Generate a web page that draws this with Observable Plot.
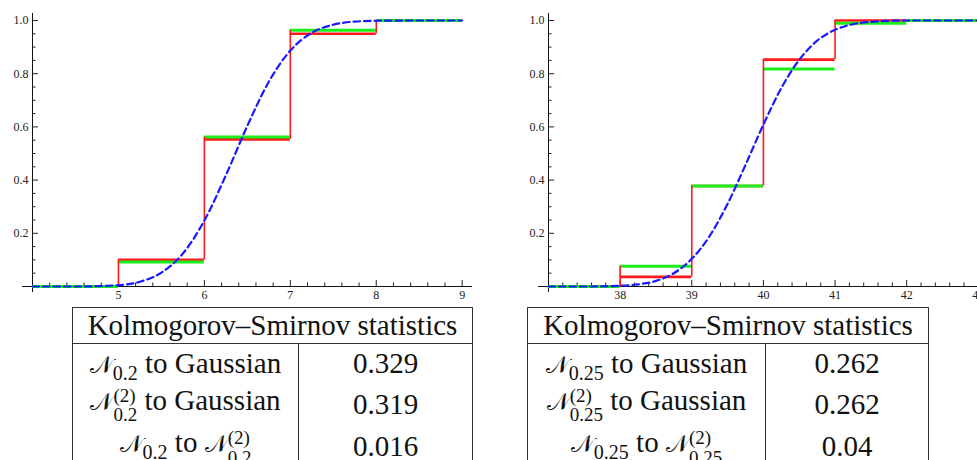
<!DOCTYPE html>
<html><head><meta charset="utf-8">
<script src="https://cdn.jsdelivr.net/npm/d3@7"></script>
<script src="https://cdn.jsdelivr.net/npm/@observablehq/plot@0.6"></script>
<style>
html,body{margin:0;padding:0;background:#fff;overflow:hidden;}
#wrap{display:flex;width:1000px;}
.col{width:500px;flex:none;}
.col svg{display:block;}
table.ks{border-collapse:collapse;font-family:"Liberation Serif","Times New Roman",serif;font-size:29px;color:#111;margin-top:1px;}
table.ks th{border:1px solid #333;font-weight:normal;height:35px;padding:0;text-align:center;}
table.ks td{border-left:1px solid #333;border-right:1px solid #333;padding:0;text-align:center;vertical-align:middle;}
.N{font-family:"DejaVu Sans",serif;font-size:24px;}
.sb{font-size:20px;position:relative;top:7px;}
.ss{display:inline-block;vertical-align:-0.6em;line-height:1.02;font-size:19px;text-align:left;}
.ss span{display:block;}
</style>
</head><body>
<div id="wrap">
  <div class="col" id="colL">
    <div id="plotL"></div>
    <table class="ks" style="margin-left:72px;width:401px">
      <tr><th colspan="2">Kolmogorov–Smirnov statistics</th></tr>
      <tr style="height:40px"><td style="width:225px"><span class="N">&#x1D4A9;</span><span class="sb">0.2</span> to Gaussian</td><td>0.329</td></tr>
      <tr style="height:41px"><td><span class="N">&#x1D4A9;</span><span class="ss"><span>(2)</span><span>0.2</span></span> to Gaussian</td><td>0.319</td></tr>
      <tr style="height:44px"><td><span class="N">&#x1D4A9;</span><span class="sb">0.2</span> to <span class="N">&#x1D4A9;</span><span class="ss"><span>(2)</span><span>0.2</span></span></td><td>0.016</td></tr>
    </table>
  </div>
  <div class="col" id="colR">
    <div id="plotR"></div>
    <table class="ks" style="margin-left:27px;width:402px">
      <tr><th colspan="2">Kolmogorov–Smirnov statistics</th></tr>
      <tr style="height:40px"><td style="width:237px"><span class="N">&#x1D4A9;</span><span class="sb">0.25</span> to Gaussian</td><td>0.262</td></tr>
      <tr style="height:41px"><td><span class="N">&#x1D4A9;</span><span class="ss"><span>(2)</span><span>0.25</span></span> to Gaussian</td><td>0.262</td></tr>
      <tr style="height:44px"><td><span class="N">&#x1D4A9;</span><span class="sb">0.25</span> to <span class="N">&#x1D4A9;</span><span class="ss"><span>(2)</span><span>0.25</span></span></td><td>0.04</td></tr>
    </table>
  </div>
</div>
<script>
// ---- Left panel data ----
const leftDomain = [4, 9.12];
const leftSteps = [4, 5, 6, 7, 8, 9];
const leftRed = [0, 0.10, 0.553, 0.95, null];
const leftGreen = [0, 0.092, 0.562, 0.963, 1.0];
const leftBlueX = [4, 4.5, 5, 5.25, 5.5, 5.75, 6, 6.25, 6.5, 6.75, 7, 7.25, 7.5, 7.75, 8, 8.5, 9];
const leftBlueY = [0, 0, 0.005, 0.018, 0.052, 0.124, 0.248, 0.418, 0.604, 0.770, 0.887, 0.954, 0.984, 0.996, 0.999, 1, 1];
const leftXTicks = [5, 6, 7, 8, 9];
const leftXMinor = [4.2, 4.4, 4.6, 4.8, 5.2, 5.4, 5.6, 5.8, 6.2, 6.4, 6.6, 6.8, 7.2, 7.4, 7.6, 7.8, 8.2, 8.4, 8.6, 8.8];

// ---- Right panel data ----
const rightDomain = [37, 43.1];
const rightSteps = [37, 38, 39, 40, 41, 42, 43.1];
const rightRed = [null, 0.036, 0.378, 0.853, 1.0, null];
const rightGreen = [0, 0.076, 0.378, 0.818, 0.99, 1.0];
const rightBlueX = [37, 37.5, 38, 38.25, 38.5, 38.75, 39, 39.25, 39.5, 39.75, 40, 40.25, 40.5, 40.75, 41, 41.25, 41.5, 42, 43.1];
const rightBlueY = [0, 0, 0.003, 0.008, 0.021, 0.050, 0.104, 0.190, 0.311, 0.457, 0.609, 0.746, 0.852, 0.924, 0.965, 0.986, 0.995, 1, 1];
const rightXTicks = [38, 39, 40, 41, 42, 43];
const rightXMinor = [37.2, 37.4, 37.6, 37.8, 38.2, 38.4, 38.6, 38.8, 39.2, 39.4, 39.6, 39.8, 40.2, 40.4, 40.6, 40.8, 41.2, 41.4, 41.6, 41.8, 42.2, 42.4, 42.6, 42.8];

// ---- shared y ticks ----
const yTicks = [0.2, 0.4, 0.6, 0.8, 1.0];
const yMinor = [0.05, 0.1, 0.15, 0.25, 0.3, 0.35, 0.45, 0.5, 0.55, 0.65, 0.7, 0.75, 0.85, 0.9, 0.95];

function horiz(steps, vals) {
  return vals.map((v, i) => ({x1: steps[i], x2: steps[i + 1], y: v})).filter(d => d.y != null);
}
function verts(steps, red, green) {
  const out = [];
  for (let i = 1; i < red.length; i++) {
    if (red[i] == null && red[i - 1] == null) continue;
    const lo = red[i - 1] ?? 0;
    const hi = Math.max(red[i] ?? 0, green[i] ?? 0);
    out.push({x: steps[i], y1: lo, y2: hi});
  }
  return out;
}

const font = "'Liberation Serif', 'Times New Roman', serif";

function panel(domain, steps, red, green, bx, by, xt, xm, marginLeft, marginRight) {
  const blue = bx.map((x, i) => ({x, y: by[i]}));
  return Plot.plot({
    width: 500, height: 306,
    marginLeft, marginRight, marginTop: 20, marginBottom: 20,
    x: {domain, label: null},
    y: {domain: [0, 1], label: null},
    style: {fontFamily: font, fontSize: "12px", color: "#222", background: "white", overflow: "visible"},
    marks: [
      Plot.ruleY([0], {stroke: "#111", strokeWidth: 1, insetLeft: -10}),
      Plot.ruleX([domain[0]], {stroke: "#111", strokeWidth: 1, insetTop: -7, insetBottom: -6}),
      Plot.axisX({ticks: xt, tickSize: -6, tickPadding: 10, tickFormat: d3.format("d"), fontSize: 12}),
      Plot.axisX({ticks: xm, tickSize: -3.5, tickFormat: () => ""}),
      Plot.axisY({ticks: yTicks, tickSize: -6, tickPadding: 10, tickFormat: d3.format(".1f"), fontSize: 12}),
      Plot.axisY({ticks: yMinor, tickSize: -3.5, tickFormat: () => ""}),
      Plot.ruleY(horiz(steps, red), {x1: "x1", x2: "x2", y: "y", stroke: "#ff1a1a", strokeWidth: 2.6}),
      Plot.ruleY(horiz(steps, green), {x1: "x1", x2: "x2", y: "y", stroke: "#19f019", strokeWidth: 3}),
      Plot.ruleX(verts(steps, red, green), {x: "x", y1: "y1", y2: "y2", stroke: "#ff1a1a", strokeWidth: 1.6}),
      Plot.line(blue, {x: "x", y: "y", stroke: "#1a1aff", strokeWidth: 2.2, strokeDasharray: "6.5,4", curve: "monotone-x"})
    ]
  });
}

document.getElementById("plotL").append(panel(leftDomain, leftSteps, leftRed, leftGreen, leftBlueX, leftBlueY, leftXTicks, leftXMinor, 32, 28));
document.getElementById("plotR").append(panel(rightDomain, rightSteps, rightRed, rightGreen, rightBlueX, rightBlueY, rightXTicks, rightXMinor, 48, 15));
</script>
</body></html>
